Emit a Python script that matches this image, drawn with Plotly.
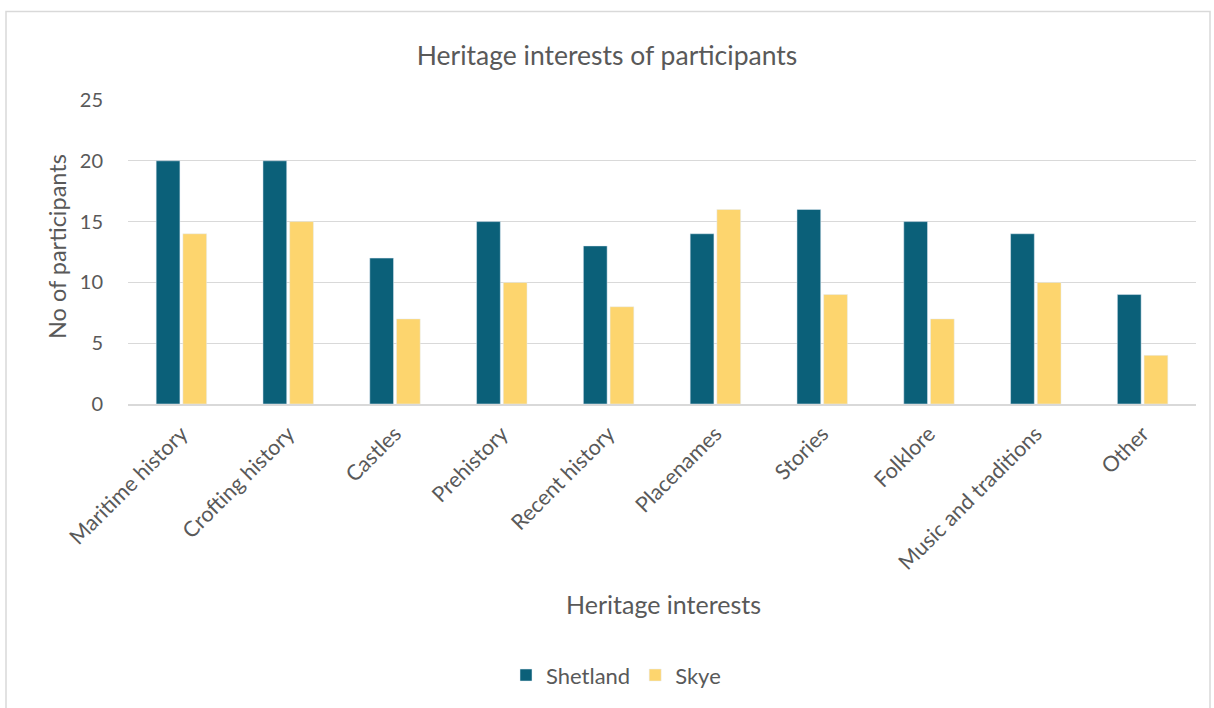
import plotly.graph_objects as go

categories = ["Maritime history", "Crofting history", "Castles", "Prehistory",
              "Recent history", "Placenames", "Stories", "Folklore",
              "Music and traditions", "Other"]
shetland = [20, 20, 12, 15, 13, 14, 16, 15, 14, 9]
skye = [14, 15, 7, 10, 8, 16, 9, 7, 10, 4]
y_ticks = [0, 5, 10, 15, 20, 25]

FONT = "Lato"
TEXT = "#595959"

fig = go.Figure()
fig.add_trace(go.Bar(name="Shetland", x=categories, y=shetland, marker_color="#0B6079"))
fig.add_trace(go.Bar(name="Skye", x=categories, y=skye, marker_color="#FDD56E"))

W, H = 1214, 708
L, R, T, B = 128, 18, 100, 302
pw, ph = W - L - R, H - T - B

def px_x(x):
    return (x - L) / pw

def px_y(y):
    return (H - B - y) / ph

fig.update_layout(
    width=W, height=H,
    margin=dict(l=L, r=R, t=T, b=B),
    paper_bgcolor="white", plot_bgcolor="white",
    barmode="group", bargap=0.50, bargroupgap=0.11,
    font=dict(family=FONT, color=TEXT, size=20),
    title=dict(text="Heritage interests of participants", x=0.5, xanchor="center",
               y=1 - 56 / H, yanchor="middle", font=dict(size=26.5, color=TEXT)),
    showlegend=True,
    legend=dict(orientation="h", x=px_x(506), xanchor="left", y=px_y(679), yanchor="middle",
                font=dict(size=22, color=TEXT), itemwidth=30, traceorder="normal"),
    xaxis=dict(tickangle=-45, showgrid=False, showline=True, linecolor="#d9d9d9",
               linewidth=1.5, ticks="", tickfont=dict(size=21.5, color=TEXT),
               ticklabelstandoff=7),
    yaxis=dict(range=[0, 25], tickvals=y_ticks, showgrid=True, gridcolor="#d9d9d9",
               gridwidth=1, zeroline=False, showline=False, ticks="",
               tickfont=dict(size=20, color=TEXT), ticklabelstandoff=24),
    shapes=[dict(type="rect", xref="paper", yref="paper",
                 x0=px_x(6), x1=px_x(1210), y0=px_y(730), y1=px_y(11),
                 line=dict(color="#d9d9d9", width=1.5), fillcolor="rgba(0,0,0,0)",
                 layer="below")],
    annotations=[
        dict(text="Heritage interests", xref="paper", yref="paper", x=px_x(663), y=px_y(607),
             xanchor="center", yanchor="middle", showarrow=False,
             font=dict(size=25, color=TEXT)),
        dict(text="No of participants", xref="paper", yref="paper", x=px_x(57),
             y=px_y(248), xanchor="center", yanchor="middle", textangle=-90,
             showarrow=False, font=dict(size=23.5, color=TEXT)),
    ],
)

fig.write_html("out.html")
